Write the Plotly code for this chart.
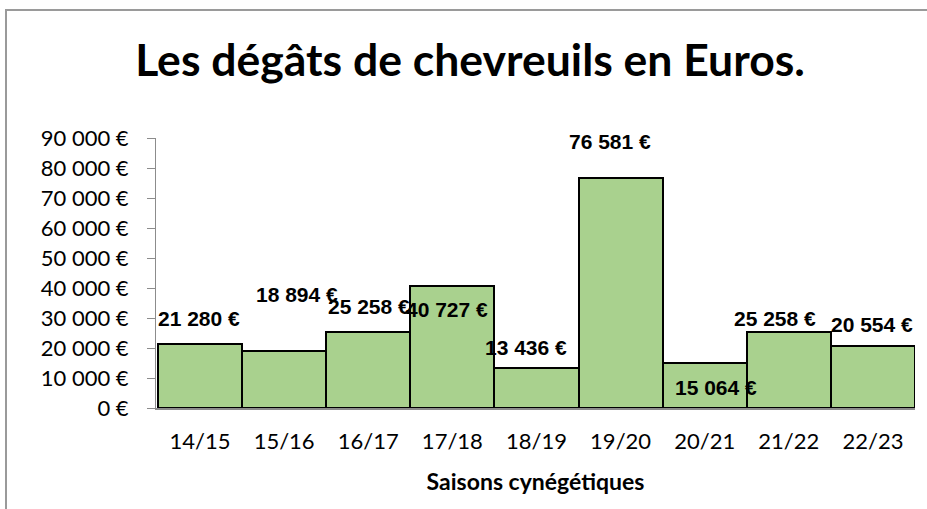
import plotly.graph_objects as go

# Saisons cynégétiques and roe-deer damage amounts (EUR)
saisons = ["14/15", "15/16", "16/17", "17/18", "18/19", "19/20", "20/21", "21/22", "22/23"]
degats = [21280, 18894, 25258, 40727, 13436, 76581, 15064, 25258, 20554]

y_ticks = [0, 10000, 20000, 30000, 40000, 50000, 60000, 70000, 80000, 90000]
y_tick_labels = ["0 €", "10 000 €", "20 000 €", "30 000 €", "40 000 €",
                 "50 000 €", "60 000 €", "70 000 €", "80 000 €", "90 000 €"]


def euros(v):
    return f"{v:,}".replace(",", " ") + " €"


# data-label placement (y in axis units, horizontal nudge in px)
label_y = [29700, 37700, 33700, 33000, 20300, 88700, 7000, 29700, 28000]
label_dx = [-1, 13, 1, -5, -10, -11, 11, -14, -1]

W, H = 927, 509

fig = go.Figure(
    go.Bar(
        x=saisons,
        y=degats,
        marker=dict(color="#A9D18E", line=dict(color="#000000", width=2)),
        width=1.0,
        hoverinfo="x+y",
    )
)

for s, v, ly, dx in zip(saisons, degats, label_y, label_dx):
    fig.add_annotation(
        x=s, y=ly, xref="x", yref="y", text="<b>" + euros(v) + "</b>", showarrow=False,
        xshift=dx,
        font=dict(family="Liberation Sans, Arial, sans-serif", size=21, color="#000000"),
    )

fig.update_layout(
    width=W,
    height=H,
    margin=dict(l=156, r=12, t=138, b=101),
    paper_bgcolor="white",
    plot_bgcolor="white",
    showlegend=False,
    bargap=0,
    title=dict(
        text="<b>Les dégâts de chevreuils en Euros.</b>",
        x=470 / W, xanchor="center", xref="container",
        y=1 - 60 / H, yref="container", yanchor="middle",
        font=dict(family="Lato, sans-serif", size=44.5, color="#000000"),
    ),
    font=dict(family="Lato, sans-serif", color="#000000"),
    xaxis=dict(
        type="category",
        showgrid=False,
        showline=True, linecolor="#8C8C8C", linewidth=2,
        ticks="", tickfont=dict(size=22, color="#000000"),
        ticklabelstandoff=13,
        title=dict(text="<b>Saisons cynégétiques</b>",
                   font=dict(size=23, color="#000000"), standoff=20),
    ),
    yaxis=dict(
        range=[0, 90000],
        tickvals=y_ticks, ticktext=y_tick_labels,
        showgrid=False, zeroline=False,
        showline=True, linecolor="#8C8C8C", linewidth=1,
        ticks="outside", ticklen=8, tickcolor="#8C8C8C", tickwidth=1,
        tickfont=dict(size=22, color="#000000"),
        ticklabelstandoff=14,
    ),
)

# outer chart frame
fig.add_shape(
    type="rect", xref="paper", yref="paper",
    x0=-150 / 759, x1=1.05, y0=-0.5, y1=1 + 128 / 270,
    line=dict(color="#9A9A9A", width=2), fillcolor="rgba(0,0,0,0)", layer="below",
)

fig.write_html("out.html")
